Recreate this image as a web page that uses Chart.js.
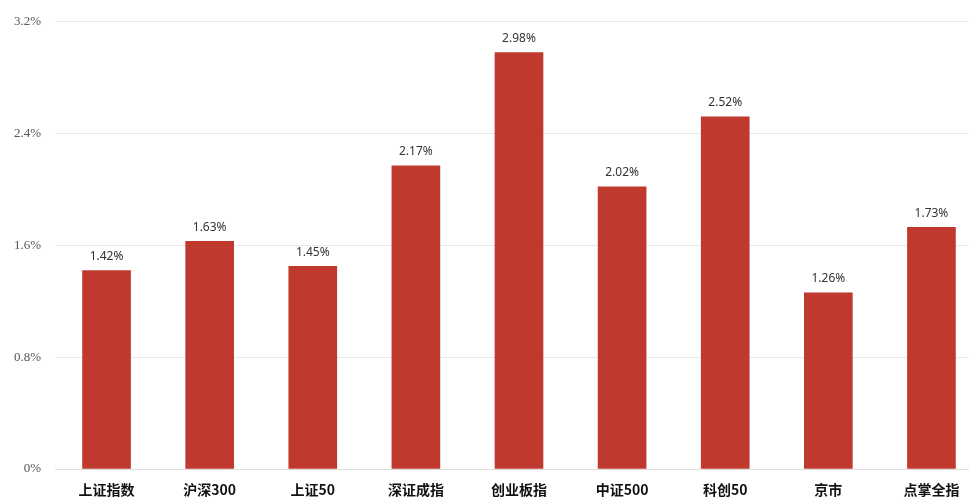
<!DOCTYPE html>
<html>
<head>
<meta charset="utf-8">
<script src="https://cdn.jsdelivr.net/npm/chart.js@4"></script>
<style>
  html, body { margin: 0; padding: 0; background: #fff; overflow: hidden; }
  #wrap { width: 983px; height: 502px; }
</style>
</head>
<body>
<div id="wrap"><canvas id="myChart"></canvas></div>
<script>
// data
const categories = ['上证指数', '沪深300', '上证50', '深证成指', '创业板指', '中证500', '科创50', '京市', '点掌全指'];
const changes = [1.42, 1.63, 1.45, 2.17, 2.98, 2.02, 2.52, 1.26, 1.73];
const yTicks = [0, 0.8, 1.6, 2.4, 3.2];

// draw value labels above bars
const barLabels = {
  id: 'barLabels',
  afterDatasetsDraw(chart) {
    const ctx = chart.ctx;
    ctx.save();
    ctx.font = '12px "Noto Sans", sans-serif';
    ctx.fillStyle = '#333';
    ctx.textAlign = 'center';
    ctx.textBaseline = 'bottom';
    chart.getDatasetMeta(0).data.forEach(function (bar, i) {
      ctx.fillText(changes[i].toFixed(2) + '%', bar.x, bar.y - 8);
    });
    ctx.restore();
  }
};

var ctx = document.getElementById('myChart').getContext('2d');
var myChart = new Chart(ctx, {
  type: 'bar',
  data: {
    labels: categories,
    datasets: [{
      data: changes,
      backgroundColor: '#c0392f',
      barThickness: 48
    }]
  },
  options: {
    responsive: true,
    maintainAspectRatio: false,
    animation: false,
    layout: { padding: { top: 16, right: 0, bottom: 0, left: 0 } },
    plugins: { legend: { display: false }, tooltip: { enabled: false } },
    scales: {
      x: {
        grid: { display: false },
        border: { display: true, color: '#ddd' },
        ticks: { color: '#111', font: { family: '"Noto Sans CJK SC"', size: 14, weight: 'bold' }, padding: 4 },
        afterFit(axis) { axis.height = 33; }
      },
      y: {
        min: 0,
        max: 3.2,
        afterBuildTicks(axis) { axis.ticks = yTicks.map(v => ({ value: v })); },
        grid: { color: '#e8e8e8', drawTicks: false },
        border: { display: false },
        ticks: {
          color: '#555',
          font: { family: '"Liberation Serif"', size: 13 },
          padding: 14,
          callback: v => (v === 0 ? '0' : v.toFixed(1)) + '%'
        },
        afterFit(axis) { axis.width = 55; }
      }
    }
  },
  plugins: [barLabels]
});
</script>
</body>
</html>
